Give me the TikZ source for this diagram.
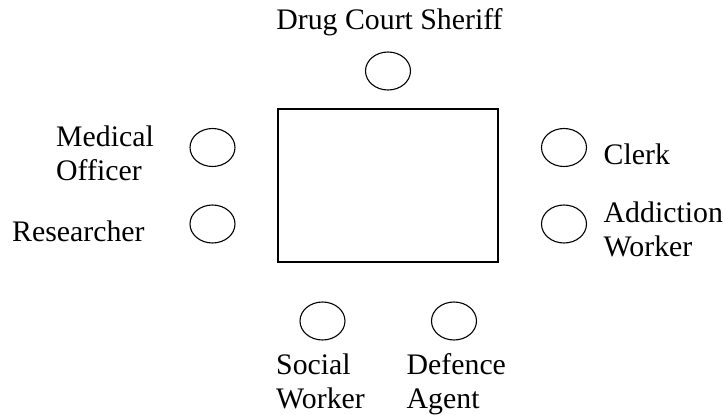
\documentclass[tikz,border=0pt]{standalone}
\usepackage{fontspec}
\setmainfont{Liberation Serif}
\usetikzlibrary{shapes.geometric}
\tikzset{
  seat/.style={draw, ellipse, line width=1.1pt, minimum width=45pt, minimum height=38pt, inner sep=0pt},
  tablebox/.style={draw, rectangle, line width=1.4pt, minimum width=220pt, minimum height=153pt, inner sep=0pt},
  lbl/.style={inner sep=0pt, align=left, font=\fontsize{29.8}{34}\selectfont}
}
\begin{document}
\begin{tikzpicture}[x=1pt, y=-1pt]
\useasboundingbox (0,0) rectangle (723,415);
\node[tablebox] (table) at (388,185.5) {};
\node[seat] (sheriff) at (388,71) {};
\node[seat] (medical) at (212.5,147.5) {};
\node[seat] (research) at (212.5,224) {};
\node[seat] (clerk) at (564,147.5) {};
\node[seat] (addiction) at (564,224) {};
\node[seat] (social) at (322.5,321) {};
\node[seat] (defence) at (454,321) {};
\node[lbl, anchor=base] (tsheriff) at (389.5,29) {Drug Court Sheriff};
\node[lbl, anchor=base west] (tmedical) at (56,180) {Medical\\Officer};
\node[lbl, anchor=base west] (tresearch) at (12,241.5) {Researcher};
\node[lbl, anchor=base west] (tclerk) at (603.5,164.5) {Clerk};
\node[lbl, anchor=base west] (taddiction) at (603.5,256) {Addiction\\Worker};
\node[lbl, anchor=base west] (tsocial) at (276,408.5) {Social\\Worker};
\node[lbl, anchor=base west] (tdefence) at (406.5,408.5) {Defence\\Agent};
\end{tikzpicture}
\end{document}
